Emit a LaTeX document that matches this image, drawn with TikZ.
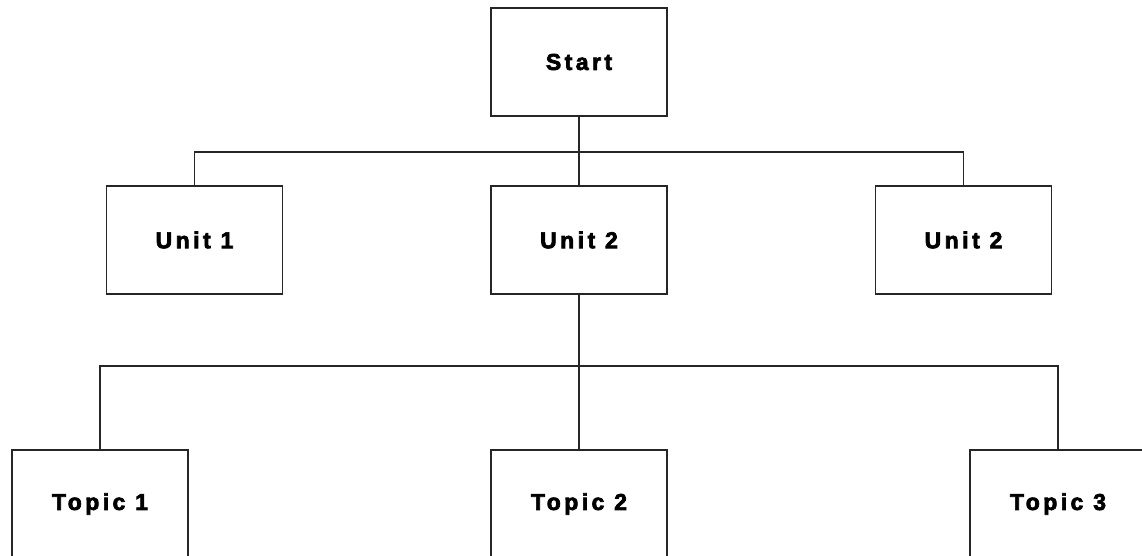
\documentclass[tikz,border=0pt]{standalone}
\usepackage{fontspec}
\setmainfont{Liberation Sans}[BoldFeatures={LetterSpace=15,FakeBold=3}]
\begin{document}
\begin{tikzpicture}[x=1pt,y=-1pt,
  box/.style={draw=black!85,line width=1.8pt,fill=white,minimum width=176pt,minimum height=108pt,inner sep=0pt,font=\fontsize{23pt}{27pt}\selectfont\bfseries},
  link/.style={draw=black!85,line width=1.8pt}]
\useasboundingbox (0,0) rectangle (1142,555);
\clip (0,0) rectangle (1142,555);
\node[box] (start) at (579,62) {Start};
\node[box] (u1) at (194.5,240) {Unit 1};
\node[box] (u2) at (579,240) {Unit 2};
\node[box] (u3) at (963.5,240) {Unit 2};
\node[box] (t1) at (100,504) {Topic 1};
\node[box] (t2) at (579,504) {Topic 2};
\node[box] (t3) at (1058,504) {Topic 3};
\coordinate (j1) at (579,152);
\coordinate (j2) at (579,366);
\draw[link] (start.south) -- (u2.north);
\draw[link] (u1.north) |- (j1) -| (u3.north);
\draw[link] (u2.south) -- (t2.north);
\draw[link] (t1.north) |- (j2) -| (t3.north);
\end{tikzpicture}
\end{document}
